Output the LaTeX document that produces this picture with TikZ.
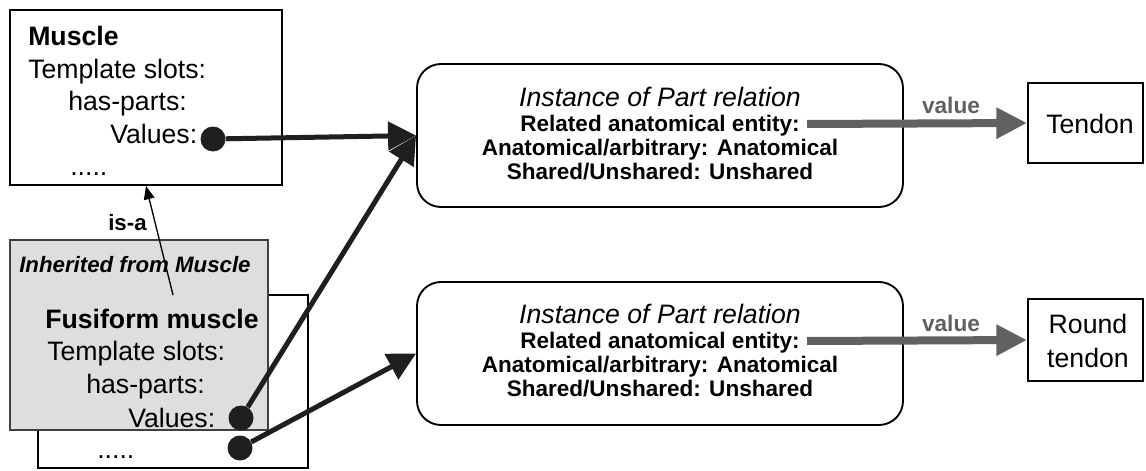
\documentclass[tikz,border=0pt]{standalone}
\usepackage{fontspec}
\setmainfont{Liberation Sans}
\usetikzlibrary{arrows.meta,fit}

\begin{document}
\begin{tikzpicture}[x=0.75pt, y=-0.75pt,
  frame/.style={draw=black, line width=1.4pt, inner sep=0pt},
  shadebox/.style={draw=black!75, fill=black!13, line width=1pt, inner sep=0pt},
  relbox/.style={frame, rounded corners=18pt},
  txt/.style={inner sep=0pt, anchor=base west, font=\fontsize{20}{24}\selectfont},
  ctxt/.style={inner sep=0pt, anchor=base, font=\fontsize{20}{24}\selectfont},
  slot/.style={inner sep=0pt, anchor=base, font=\fontsize{16.9}{20}\selectfont\bfseries},
  head/.style={inner sep=0pt, anchor=base, font=\fontsize{20}{24}\selectfont\itshape},
  small/.style={inner sep=0pt, anchor=base west, font=\fontsize{16.7}{20}\selectfont\bfseries},
  valtxt/.style={inner sep=0pt, anchor=base, text=black!62, font=\fontsize{17}{20}\selectfont\bfseries},
  dot/.style={circle, fill=black!88, inner sep=0pt, minimum size=18.75pt},
  link/.style={line width=3.75pt, draw=black!88, -{Triangle[length=21pt,width=21pt]}},
  isalink/.style={line width=1pt, -{Triangle[length=10pt,width=8pt]}},
  vallink/.style={line width=6pt, draw=black!62, -{Triangle[length=23pt,width=22pt]}},
]
\useasboundingbox (0,0) rectangle (1146,471);

% Muscle frame
\node[frame, fit={(10,10)(282,185)}] (muscle) {};
\node[txt, font=\fontsize{20}{24}\selectfont\bfseries] (mname) at (28,45) {Muscle};
\node[txt] (mslots) at (28,78) {Template slots:};
\node[txt] (mparts) at (68,110) {has-parts:};
\node[txt] (mvalues) at (110,143) {Values:};
\node[txt] (mmore) at (70,175) {.....};

% Fusiform muscle frame (white back part and shaded inherited part)
\node[frame, line width=1.2pt, fill=white, fit={(38,295)(308,468)}] (fback) {};
\node[shadebox, fit={(10,240)(268,430)}] (fshade) {};
\node[small, font=\fontsize{16.7}{20}\selectfont\bfseries\itshape] (inh) at (19,272) {Inherited from Muscle};
\node[txt, font=\fontsize{20}{24}\selectfont\bfseries] (fname) at (45,328) {Fusiform muscle};
\node[txt] (fslots) at (47,360) {Template slots:};
\node[txt] (fparts) at (86,393) {has-parts:};
\node[txt] (fvalues) at (128,427) {Values:};
\node[txt] (fmore) at (97,458) {.....};

% is-a link
\node[small] (isa) at (108,230) {is-a};
\coordinate (isafoot) at (173,295);
\draw[isalink] (isafoot) -- (muscle.south);

% Part relation instances
\node[relbox, fit={(417,64)(903,207)}] (rel1) {};
\node[head] (r1a) at (660,106) {Instance of Part relation};
\node[slot] (r1b) at (660,131) {Related anatomical entity:};
\node[slot] (r1c) at (660,155) {Anatomical/arbitrary: Anatomical};
\node[slot] (r1d) at (660,179) {Shared/Unshared: Unshared};

\node[relbox, fit={(417,282)(903,425)}] (rel2) {};
\node[head] (r2a) at (660,323) {Instance of Part relation};
\node[slot] (r2b) at (660,348) {Related anatomical entity:};
\node[slot] (r2c) at (660,372) {Anatomical/arbitrary: Anatomical};
\node[slot] (r2d) at (660,396) {Shared/Unshared: Unshared};

% Value targets
\node[frame, fit={(1028,83)(1143,163)}] (tendon) {};
\node[ctxt] (tendontxt) at (1090,133) {Tendon};
\node[frame, fit={(1028,299)(1143,381)}] (round) {};
\node[ctxt, align=center, anchor=center, font=\fontsize{20}{25.5}\selectfont] (roundtxt) at (1088,341) {Round\\tendon};

% Value links
\coordinate (v1) at (807,124);
\coordinate (v2) at (807,341);
\draw[vallink] (v1) -- (tendon.west);
\draw[vallink] (v2) -- (round.west);
\node[valtxt] (val1) at (951,113) {value};
\node[valtxt] (val2) at (951,331) {value};

% Slot value dots and links
\node[dot] (mdot) at (213,139) {};
\node[dot] (fdot) at (241,418) {};
\node[dot] (bdot) at (240,448) {};
\draw[link] (mdot) -- (rel1.west);
\draw[link] (fdot) -- (rel1.west);
\draw[link] (bdot) -- (rel2.west);
\end{tikzpicture}
\end{document}
